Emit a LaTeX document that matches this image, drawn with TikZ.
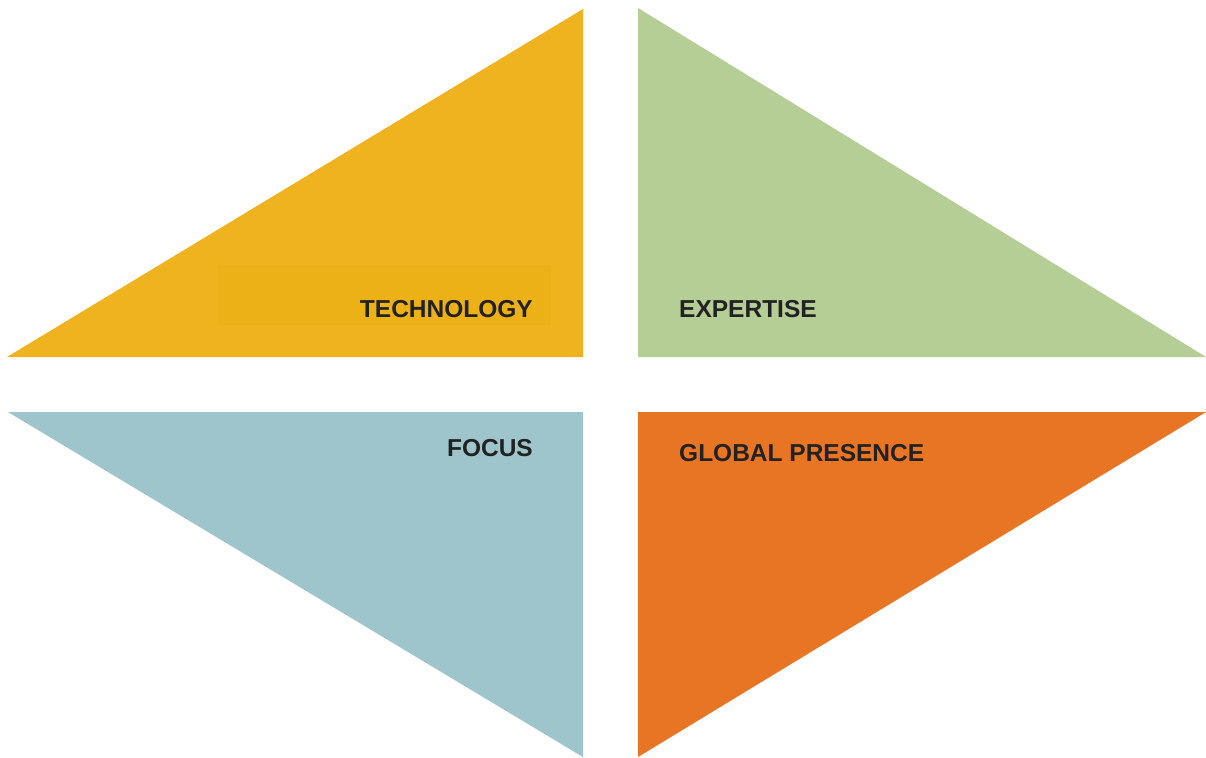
\documentclass[tikz,border=0pt]{standalone}
\usepackage{fontspec}
\setmainfont{Liberation Sans}
\definecolor{cyellow}{HTML}{EEB31F}
\definecolor{cyellowdk}{HTML}{EDB118}
\definecolor{cgreen}{HTML}{B5CE95}
\definecolor{cteal}{HTML}{9FC5CC}
\definecolor{corange}{HTML}{E87524}
\definecolor{ctext}{HTML}{222222}
\begin{document}
\begin{tikzpicture}[x=1pt,y=-1pt,
  lbl/.style={inner sep=0pt, text=ctext, font=\fontsize{24.5}{24.5}\selectfont\bfseries}]
\useasboundingbox (0,0) rectangle (1206,757);
\fill[white] (0,0) rectangle (1206,757);
% triangles
\fill[cyellow] (7,357) -- (583,357) -- (583,9) -- cycle;
\fill[cyellowdk] (218,265) rectangle (551,325);
\fill[cgreen] (638,8) -- (638,357) -- (1206,357) -- cycle;
\fill[cteal] (8,412) -- (583,412) -- (583,757) -- cycle;
\fill[corange] (638,412) -- (1206,412) -- (638,757) -- cycle;
% labels
\node[lbl, anchor=base east] (tech) at (533,317) {TECHNOLOGY};
\node[lbl, anchor=base west] (exp) at (679,317) {EXPERTISE};
\node[lbl, anchor=base east] (focus) at (533,456) {FOCUS};
\node[lbl, anchor=base west] (glob) at (679,461) {GLOBAL PRESENCE};
\end{tikzpicture}
\end{document}
